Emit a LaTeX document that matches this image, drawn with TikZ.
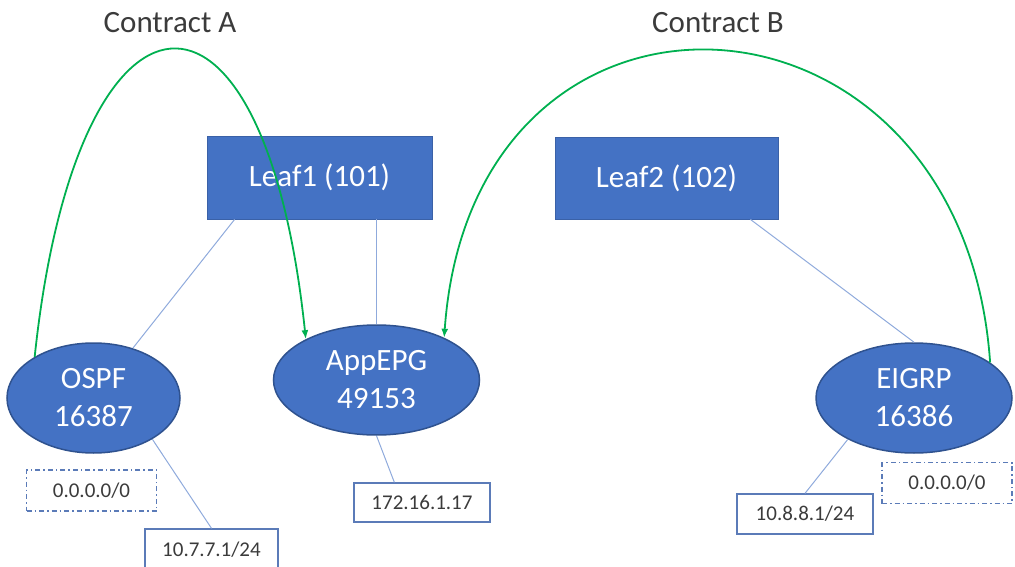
\documentclass[tikz,border=0pt]{standalone}
\usepackage{fontspec}
\setmainfont{Carlito}
\usepackage{tikz}
\usetikzlibrary{arrows.meta}
\usetikzlibrary{shapes.geometric}
\usepackage{xcolor}
\definecolor{epgblue}{HTML}{4472C4}
\definecolor{epgedge}{HTML}{2F528F}
\definecolor{linkblue}{HTML}{8FAADC}
\definecolor{boxedge}{HTML}{5B7BB8}
\definecolor{contractgreen}{HTML}{00B050}
\definecolor{iptext}{HTML}{3B3B3B}

\begin{document}
\begin{tikzpicture}[x=1pt,y=1pt]
\tikzset{>={Latex[width=7pt,length=9pt]}}
\tikzstyle{leaf} =[rectangle, fill=epgblue, draw=epgblue!85!black, line width=0.8pt, text=white, minimum width=225pt, minimum height=83pt, font=\fontsize{31}{37}\selectfont]
\tikzstyle{epg} =[ellipse, fill=epgblue, draw=epgedge, line width=1.5pt, text=white, align=center, inner sep=0pt, minimum height=110pt, font=\fontsize{31}{38}\selectfont]
\tikzstyle{subnet} =[rectangle, draw=boxedge, line width=1.3pt, text=iptext, minimum width=136pt, minimum height=40pt, font=\fontsize{21}{25}\selectfont]
\tikzstyle{route} =[subnet, dash pattern=on 5pt off 3pt on 1.5pt off 3pt, minimum width=130pt, minimum height=41pt]
\tikzstyle{link} =[linkblue, line width=1pt]
\tikzstyle{contract} =[->, contractgreen, line width=1.8pt]

\useasboundingbox (0,0) rectangle (1015,566);

\node[leaf](leaf1) at (319.5,388.5){Leaf1 (101)};
\node[leaf,minimum width=223pt,minimum height=82pt](leaf2) at (666.5,388){Leaf2 (102)};

\node[epg,minimum width=173pt](ospf) at (93.5,168){OSPF\\16387};
\node[epg,minimum width=206pt](appepg) at (376.5,186){AppEPG\\49153};
\node[epg,minimum width=196pt](eigrp) at (914,168){EIGRP\\16386};

\node[route](dflt1) at (91.5,75.5){0.0.0.0/0};
\node[route](dflt2) at (947,83){0.0.0.0/0};
\node[subnet,minimum width=133pt,minimum height=41pt](net1) at (211.5,16.5){10.7.7.1/24};
\node[subnet,minimum height=39pt](net2) at (422,63.5){172.16.1.17};
\node[subnet](net3) at (805,52){10.8.8.1/24};

\node[font=\fontsize{31}{37}\selectfont,text=iptext,anchor=base](labA) at (170,533){Contract A};
\node[font=\fontsize{31}{37}\selectfont,text=iptext,anchor=base](labB) at (718,533){Contract B};

\draw[link] ([xshift=28pt]leaf1.south west) -- (ospf);
\draw[link] (appepg.north) -- (appepg.north |- leaf1.south);
\draw[link] ([xshift=-28pt]leaf2.south east) -- (eigrp.north);
\draw[link] (ospf.-35) -- (net1.north);
\draw[link] (appepg.south) -- ([xshift=41pt]net2.north west);
\draw[link] (eigrp.-148) -- (net3.north);

\draw[contract] (ospf.145) to [out=84,in=96,distance=400pt] (appepg.150);
\draw[contract] (eigrp.25) to [out=94,in=86,distance=400pt] (appepg.32);
\end{tikzpicture}
\end{document}
